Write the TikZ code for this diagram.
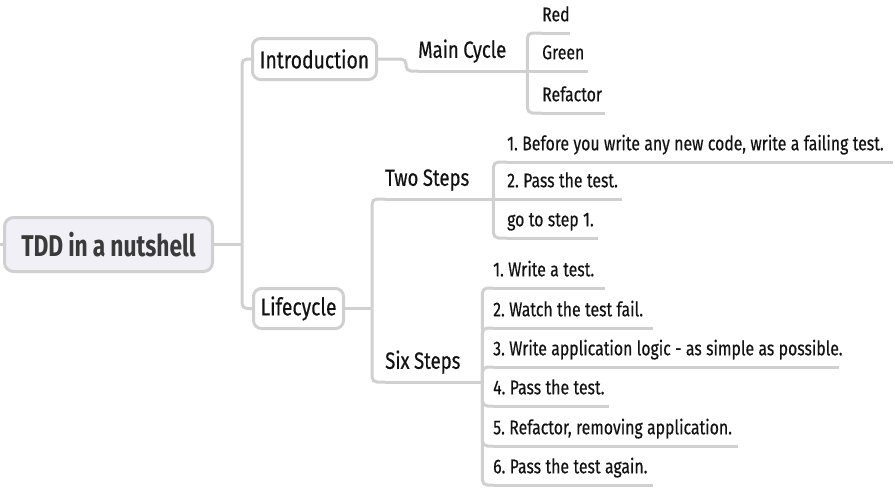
\documentclass[tikz,border=0pt]{standalone}
\usepackage{fontspec}
\setmainfont[FakeStretch=0.79, FakeBold=0.4]{Fira Sans}
\newfontfamily\rootfont[FakeStretch=0.76]{Fira Sans}
\definecolor{lineg}{RGB}{208,208,208}
\definecolor{rootfill}{RGB}{240,240,246}
\definecolor{ink}{RGB}{18,18,18}
\definecolor{rootink}{RGB}{58,58,58}
\frenchspacing
\newcommand\rootsp{\spaceskip=5pt\relax}
\newcommand\subsp{\spaceskip=4.5pt\relax}
\newcommand\leafsp{\spaceskip=4.4pt\relax}
\begin{document}
\begin{tikzpicture}[x=1pt,y=-1pt,
  conn/.style={draw=lineg, line width=3pt, rounded corners=5pt},
  rootbox/.style={draw=lineg, line width=3pt, fill=rootfill, rounded corners=9pt,
    minimum width=208pt, minimum height=54pt, inner sep=0pt, text=rootink,
    font=\rootfont\bfseries\fontsize{30}{36}\selectfont, execute at begin node=\rootsp},
  mainbox/.style={draw=lineg, line width=3pt, fill=white, rounded corners=8pt,
    inner sep=0pt, text=ink, font=\fontsize{24.5}{29}\selectfont},
  subline/.style={anchor=south west, inner xsep=0pt, inner ysep=13pt, text depth=0pt,
    text width=#1, align=left, text=ink,
    font=\fontsize{23.5}{28}\selectfont, execute at begin node=\subsp,
    append after command={(\tikzlastnode.south west) edge[conn] (\tikzlastnode.south east)}},
  leafline/.style={anchor=south west, inner xsep=0pt, inner ysep=11.5pt, text depth=0pt,
    text width=#1, align=left, text=ink,
    font=\fontsize{20}{24}\selectfont, execute at begin node=\leafsp,
    append after command={(\tikzlastnode.south west) edge[conn] (\tikzlastnode.south east)}}
]
\useasboundingbox (0,0) rectangle (895,498);

% boxes
\node[rootbox] (root) at (108.5,244.5) {TDD in a nutshell};
\node[mainbox, minimum width=124pt, minimum height=41pt] (intro) at (314.5,59) {Introduction};
\node[mainbox, minimum width=90pt, minimum height=40pt] (life) at (298.5,308.5) {Lifecycle};

% sub topics
\node[subline=109pt] (mc) at (418,71) {\mbox{Main Cycle}};
\node[subline=108pt] (two) at (385,199) {\mbox{Two Steps}};
\node[subline=97pt] (six) at (385,382) {\mbox{Six Steps}};

% leaves
\node[leafline=28pt] (red) at (542,33) {\mbox{Red}};
\node[leafline=46pt] (green) at (542,71) {\mbox{Green}};
\node[leafline=63pt] (refac) at (542,113) {\mbox{Refactor}};

\node[leafline=386pt] (ts1) at (507,162) {\mbox{1. Before you write any new code, write a failing test.}};
\node[leafline=115pt] (ts2) at (507,199) {\mbox{2. Pass the test.}};
\node[leafline=91pt] (ts3) at (507,238) {\mbox{go to step 1.}};

\node[leafline=112pt] (ss1) at (493,288) {\mbox{1. Write a test.}};
\node[leafline=160pt] (ss2) at (493,328) {\mbox{2. Watch the test fail.}};
\node[leafline=346pt] (ss3) at (493,367) {\mbox{3. Write application logic - as simple as possible.}};
\node[leafline=116pt] (ss4) at (493,406) {\mbox{4. Pass the test.}};
\node[leafline=245pt] (ss5) at (493,446) {\mbox{5. Refactor, removing application.}};
\node[leafline=160pt] (ss6) at (493,485) {\mbox{6. Pass the test again.}};

% connectors
\coordinate (stub) at (0,244.5);
\coordinate (tbus) at (242,244.5);
\coordinate (lbus) at (372,308.5);
\draw[conn] (stub) -- (root.west);
\draw[conn] (root.east) -- (tbus);
\draw[conn] (tbus) |- (intro.west);
\draw[conn] (tbus) |- (life.west);
\draw[conn] (intro.east) -- ++(28,0) |- (mc.south west);
\draw[conn] (life.east) -- (lbus);
\draw[conn] (lbus) |- (two.south west);
\draw[conn] (lbus) |- (six.south west);
\draw[conn] (mc.south east) |- (red.south west);
\draw[conn] (mc.south east) -- (green.south west);
\draw[conn] (mc.south east) |- (refac.south west);
\draw[conn] (two.south east) |- (ts1.south west);
\draw[conn] (two.south east) -- (ts2.south west);
\draw[conn] (two.south east) |- (ts3.south west);
\foreach \n in {ss1,ss2,ss3,ss4,ss5,ss6}
  \draw[conn] (six.south east) |- (\n.south west);
\end{tikzpicture}
\end{document}
